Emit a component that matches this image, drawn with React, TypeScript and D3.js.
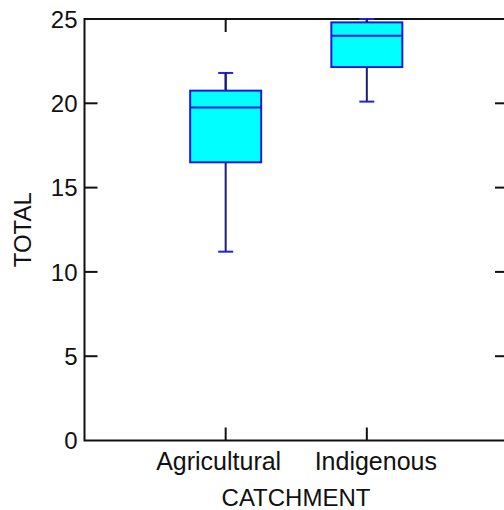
import React, { useEffect, useRef } from "react";
import * as d3 from "d3";

// values
const categories = ["Agricultural", "Indigenous"];
const whiskerLow = [11.2, 20.1];
const q1 = [16.5, 22.15];
const medians = [19.75, 24.0];
const q3 = [20.75, 24.8];
const whiskerHigh = [21.8, 25.0];
const yTicks = [0, 5, 10, 15, 20, 25];

const width = 504;
const height = 510;
const margin = { top: 19, right: -4, bottom: 69.5, left: 84.5 };
const font = "'Liberation Sans', Arial, sans-serif";
const labelShift = [-7, 9];

const App = () => {
  const ref = useRef<SVGSVGElement>(null);

  useEffect(() => {
    const svg = d3.select(ref.current);
    svg.selectAll("*").remove();

    const x0 = margin.left;
    const x1 = width - margin.right;
    const y0 = height - margin.bottom;
    const yTop = margin.top;

    const xScale = d3.scalePoint().domain(categories).range([x0, x1]).padding(1);
    const yScale = d3.scaleLinear().domain([0, 25]).range([y0, yTop]);

    const g = svg.append("g");

    // frame
    g.append("rect")
      .attr("x", x0)
      .attr("y", yTop)
      .attr("width", x1 - x0)
      .attr("height", y0 - yTop)
      .attr("fill", "none")
      .attr("stroke", "#111")
      .attr("stroke-width", 2);

    const tick = 13;
    // y ticks, left and right, pointing inward
    yTicks.forEach((t) => {
      const y = yScale(t);
      if (t !== 0 && t !== 25) {
        g.append("line").attr("x1", x0).attr("x2", x0 + tick).attr("y1", y).attr("y2", y)
          .attr("stroke", "#111").attr("stroke-width", 2);
        g.append("line").attr("x1", x1).attr("x2", x1 - tick).attr("y1", y).attr("y2", y)
          .attr("stroke", "#111").attr("stroke-width", 2);
      }
      g.append("text")
        .attr("x", x0 - 7)
        .attr("y", y)
        .attr("dy", "0.36em")
        .attr("text-anchor", "end")
        .attr("font-family", font)
        .attr("font-size", 24)
        .attr("fill", "#111")
        .text(t);
    });

    // x ticks, bottom and top
    categories.forEach((c, i) => {
      const x = xScale(c)!;
      g.append("line").attr("x1", x).attr("x2", x).attr("y1", y0).attr("y2", y0 - tick)
        .attr("stroke", "#111").attr("stroke-width", 2);
      g.append("line").attr("x1", x).attr("x2", x).attr("y1", yTop).attr("y2", yTop + tick)
        .attr("stroke", "#111").attr("stroke-width", 2);
      g.append("text")
        .attr("x", x + labelShift[i])
        .attr("y", 470)
        .attr("text-anchor", "middle")
        .attr("font-family", font)
        .attr("font-size", 25)
        .attr("fill", "#111")
        .text(c);
    });

    // boxes
    const boxW = 71;
    const capW = 15;
    categories.forEach((c, i) => {
      const x = xScale(c)!;
      const b = g.append("g");
      b.append("line")
        .attr("x1", x).attr("x2", x)
        .attr("y1", yScale(whiskerLow[i])).attr("y2", yScale(whiskerHigh[i]))
        .attr("stroke", "#1c1c78").attr("stroke-width", 2);
      [whiskerLow[i], whiskerHigh[i]].forEach((v) => {
        b.append("line")
          .attr("x1", x - capW / 2).attr("x2", x + capW / 2)
          .attr("y1", yScale(v)).attr("y2", yScale(v))
          .attr("stroke", "#2222d8").attr("stroke-width", 2);
      });
      b.append("rect")
        .attr("x", x - boxW / 2)
        .attr("y", yScale(q3[i]))
        .attr("width", boxW)
        .attr("height", yScale(q1[i]) - yScale(q3[i]))
        .attr("fill", "#00ffff")
        .attr("stroke", "#1a1ae0")
        .attr("stroke-width", 2);
      b.append("line")
        .attr("x1", x - boxW / 2).attr("x2", x + boxW / 2)
        .attr("y1", yScale(medians[i])).attr("y2", yScale(medians[i]))
        .attr("stroke", "#1a1ae0").attr("stroke-width", 2);
      // upper stem drawn over the box edge
      b.append("line")
        .attr("x1", x).attr("x2", x)
        .attr("y1", yScale(q3[i])).attr("y2", yScale(whiskerHigh[i]))
        .attr("stroke", "#1c1c78").attr("stroke-width", 2);
    });

    // axis titles
    g.append("text")
      .attr("transform", `translate(31, ${(yTop + y0) / 2}) rotate(-90)`)
      .attr("text-anchor", "middle")
      .attr("font-family", font)
      .attr("font-size", 24)
      .attr("fill", "#111")
      .text("TOTAL");

    g.append("text")
      .attr("x", 296)
      .attr("y", 506)
      .attr("text-anchor", "middle")
      .attr("font-family", font)
      .attr("font-size", 24)
      .attr("fill", "#111")
      .text("CATCHMENT");
  }, []);

  return (
    <svg
      ref={ref}
      width={width}
      height={height}
      style={{ position: "absolute", left: 0, top: 0, background: "#fff" }}
    ></svg>
  );
};

export default App;
